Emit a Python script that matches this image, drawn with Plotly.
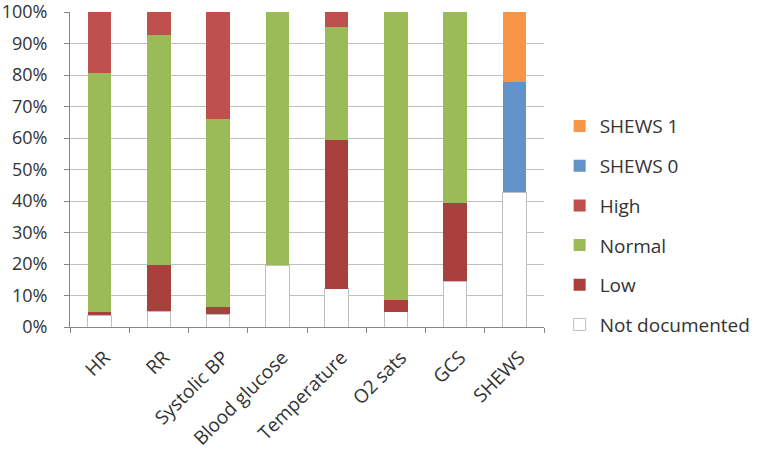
import plotly.graph_objects as go

categories = ["HR", "RR", "Systolic BP", "Blood glucose", "Temperature", "O2 sats", "GCS", "SHEWS"]
not_documented = [3.8, 5.0, 4.0, 19.6, 12.2, 4.8, 14.6, 42.8]
low = [1.0, 14.6, 2.5, 0, 47.3, 3.7, 24.7, 0]
normal = [75.7, 73.0, 59.5, 80.4, 35.8, 91.5, 60.7, 0]
high = [19.5, 7.4, 34.0, 0, 4.7, 0, 0, 0]
shews0 = [0, 0, 0, 0, 0, 0, 0, 35.1]
shews1 = [0, 0, 0, 0, 0, 0, 0, 22.1]
y_ticks = [0, 10, 20, 30, 40, 50, 60, 70, 80, 90, 100]
y_tick_labels = [f"{v}%" for v in y_ticks]

series = [
    ("Not documented", not_documented, "#FFFFFF", "#BFBFBF", 1),
    ("Low", low, "#A9403D", "#A9403D", 0),
    ("Normal", normal, "#9BBB59", "#9BBB59", 0),
    ("High", high, "#C0504D", "#C0504D", 0),
    ("SHEWS 0", shews0, "#6391C9", "#6391C9", 0),
    ("SHEWS 1", shews1, "#F79646", "#F79646", 0),
]

fig = go.Figure()
n = len(series)
for i, (name, vals, color, lc, lw) in enumerate(series):
    fig.add_trace(go.Bar(
        x=categories, y=vals, name=name, legendgroup=name,
        legendrank=n - i,
        marker=dict(color=color, line=dict(color=lc, width=lw)),
    ))

font = "'Open Sans', Lato, sans-serif"
fig.update_layout(
    width=768, height=450,
    margin=dict(l=70, r=214, t=12, b=123),
    barmode="stack", bargap=0.6,
    paper_bgcolor="white", plot_bgcolor="white",
    font=dict(family=font, size=19, color="#333333"),
    showlegend=True,
    legend=dict(
        traceorder="grouped", tracegroupgap=12,
        x=1.033, xanchor="left", y=0.698, yanchor="top",
        font=dict(size=19, color="#333333"),
        bgcolor="rgba(0,0,0,0)",
    ),
    xaxis=dict(
        type="category", tickson="boundaries", ticks="outside", ticklen=5,
        tickcolor="#868686", showline=True, linecolor="#868686",
        showgrid=False, tickangle=-45, tickfont=dict(size=19),
        automargin=False, ticklabelstandoff=11, ticklabelshift=5,
    ),
    yaxis=dict(
        range=[0, 100], tickvals=y_ticks, ticktext=y_tick_labels,
        ticks="outside", ticklen=5, tickcolor="#868686",
        showline=True, linecolor="#868686",
        showgrid=True, gridcolor="#BFBFBF", gridwidth=1,
        zeroline=False, tickfont=dict(size=18),
        automargin=False, ticklabelstandoff=13,
        ticklabeloverflow="allow",
    ),
)

fig.write_html("out.html", config={"displayModeBar": False},
               post_script="document.body.style.margin='0';")
